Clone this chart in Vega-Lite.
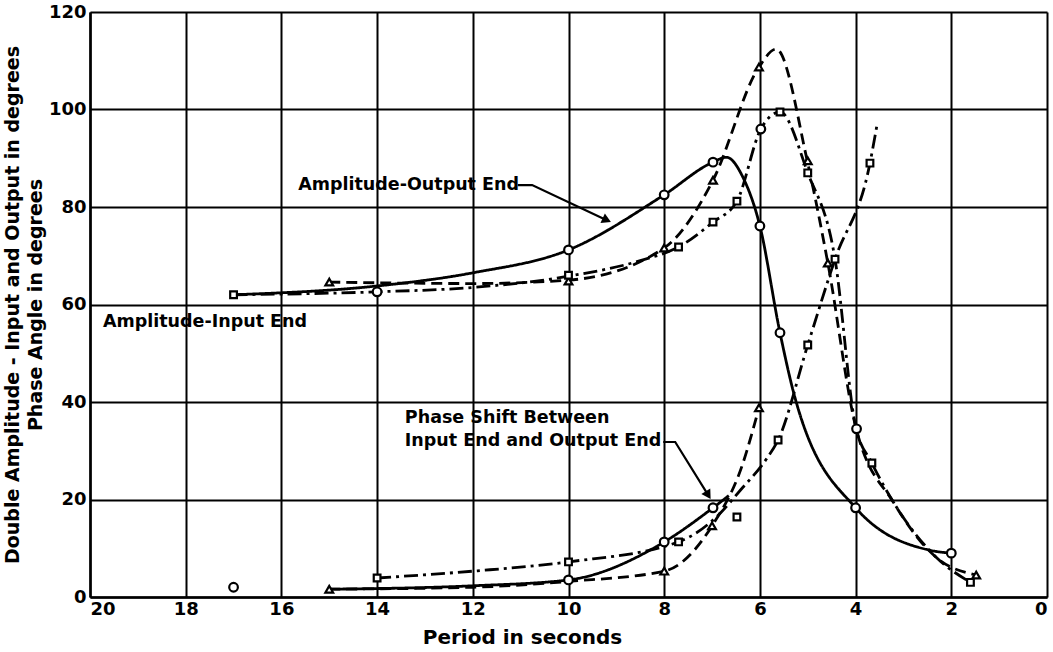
{
  "$schema": "https://vega.github.io/schema/vega-lite/v6.json",
  "width": 957,
  "height": 585,
  "autosize": "none",
  "padding": {"left": 90, "top": 12, "right": 6, "bottom": 55},
  "background": "white",
  "config": {
    "view": {"stroke": null},
    "font": "DejaVu Sans",
    "axis": {
      "grid": true, "gridColor": "black", "gridWidth": 2, "gridOpacity": 1,
      "domainColor": "black", "domainWidth": 2.5, "ticks": false,
      "labelFont": "DejaVu Sans", "labelFontWeight": "bold", "labelFontSize": 18, "labelColor": "black",
      "titleFont": "DejaVu Sans", "titleFontWeight": "bold", "titleFontSize": 18, "titleColor": "black"
    }
  },
  "datasets": {
    "curves": [
      {"s": "A_sol", "x": 17, "y": 62}, {"s": "A_sol", "x": 14, "y": 63.8}, {"s": "A_sol", "x": 12, "y": 66.5},
      {"s": "A_sol", "x": 10, "y": 71.2}, {"s": "A_sol", "x": 8, "y": 82.5}, {"s": "A_sol", "x": 6.98, "y": 89.2},
      {"s": "A_sol", "x": 6.7, "y": 90.2}, {"s": "A_sol", "x": 6.35, "y": 86}, {"s": "A_sol", "x": 6.0, "y": 76.1},
      {"s": "A_sol", "x": 5.58, "y": 54.2}, {"s": "A_sol", "x": 5.27, "y": 41}, {"s": "A_sol", "x": 4.0, "y": 18.3},
      {"s": "A_sol", "x": 2.45, "y": 9.6}, {"s": "A_sol", "x": 2.0, "y": 9.0},

      {"s": "A_dash", "x": 15, "y": 64.6}, {"s": "A_dash", "x": 12, "y": 64.3}, {"s": "A_dash", "x": 10, "y": 65},
      {"s": "A_dash", "x": 8, "y": 71.6}, {"s": "A_dash", "x": 6.98, "y": 85.5}, {"s": "A_dash", "x": 6.02, "y": 108.7},
      {"s": "A_dash", "x": 5.66, "y": 112.4}, {"s": "A_dash", "x": 5.0, "y": 89}, {"s": "A_dash", "x": 4.58, "y": 68.5},
      {"s": "A_dash", "x": 4.0, "y": 35}, {"s": "A_dash", "x": 3.2, "y": 19.3}, {"s": "A_dash", "x": 2.3, "y": 8},
      {"s": "A_dash", "x": 1.48, "y": 4.5},

      {"s": "A_dd", "x": 17, "y": 62}, {"s": "A_dd", "x": 14, "y": 62.6}, {"s": "A_dd", "x": 12, "y": 63.5},
      {"s": "A_dd", "x": 10, "y": 65.8}, {"s": "A_dd", "x": 8.5, "y": 69}, {"s": "A_dd", "x": 7.7, "y": 71.8},
      {"s": "A_dd", "x": 6.98, "y": 76.9}, {"s": "A_dd", "x": 6.48, "y": 81.2}, {"s": "A_dd", "x": 5.98, "y": 96},
      {"s": "A_dd", "x": 5.58, "y": 99.5}, {"s": "A_dd", "x": 5.0, "y": 87}, {"s": "A_dd", "x": 4.43, "y": 69.3},
      {"s": "A_dd", "x": 4.0, "y": 35}, {"s": "A_dd", "x": 3.66, "y": 27.5}, {"s": "A_dd", "x": 3.2, "y": 19.3},
      {"s": "A_dd", "x": 2.3, "y": 8}, {"s": "A_dd", "x": 1.6, "y": 3.0},

      {"s": "P_sol", "x": 15, "y": 1.6}, {"s": "P_sol", "x": 12, "y": 2.3}, {"s": "P_sol", "x": 10, "y": 3.5},
      {"s": "P_sol", "x": 8, "y": 11.3}, {"s": "P_sol", "x": 6.98, "y": 18.3}, {"s": "P_sol", "x": 6.65, "y": 20.8},

      {"s": "P_dash", "x": 15, "y": 1.6}, {"s": "P_dash", "x": 12, "y": 2.0}, {"s": "P_dash", "x": 10, "y": 3.2},
      {"s": "P_dash", "x": 8, "y": 5.3}, {"s": "P_dash", "x": 7, "y": 14.6}, {"s": "P_dash", "x": 6.37, "y": 27},
      {"s": "P_dash", "x": 6.02, "y": 38.8},

      {"s": "P_dd", "x": 14, "y": 3.9}, {"s": "P_dd", "x": 12, "y": 5.3}, {"s": "P_dd", "x": 10, "y": 7.2},
      {"s": "P_dd", "x": 7.7, "y": 11.3}, {"s": "P_dd", "x": 6.9, "y": 16.5}, {"s": "P_dd", "x": 6.4, "y": 22},
      {"s": "P_dd", "x": 5.85, "y": 28.5}, {"s": "P_dd", "x": 5.62, "y": 32.2}, {"s": "P_dd", "x": 5.0, "y": 51.7},
      {"s": "P_dd", "x": 4.43, "y": 69.3}, {"s": "P_dd", "x": 3.7, "y": 89}, {"s": "P_dd", "x": 3.55, "y": 97}
    ],
    "marks": [
      {"m": "circle", "x": 17, "y": 2}, {"m": "circle", "x": 14, "y": 62.6}, {"m": "circle", "x": 10, "y": 71.2},
      {"m": "circle", "x": 8, "y": 82.5}, {"m": "circle", "x": 6.98, "y": 89.2}, {"m": "circle", "x": 6.0, "y": 76.1},
      {"m": "circle", "x": 5.58, "y": 54.2}, {"m": "circle", "x": 4.0, "y": 18.3}, {"m": "circle", "x": 2.0, "y": 9.0},
      {"m": "circle", "x": 5.98, "y": 96}, {"m": "circle", "x": 10, "y": 3.5}, {"m": "circle", "x": 8, "y": 11.3},
      {"m": "circle", "x": 6.98, "y": 18.3}, {"m": "circle", "x": 3.98, "y": 34.5},
      {"m": "triangle", "x": 15, "y": 64.6}, {"m": "triangle", "x": 10, "y": 64.8}, {"m": "triangle", "x": 8, "y": 71.6},
      {"m": "triangle", "x": 6.98, "y": 85.5}, {"m": "triangle", "x": 6.02, "y": 108.7}, {"m": "triangle", "x": 5.0, "y": 89.5},
      {"m": "triangle", "x": 4.58, "y": 68.5}, {"m": "triangle", "x": 1.48, "y": 4.5}, {"m": "triangle", "x": 15, "y": 1.6},
      {"m": "triangle", "x": 8, "y": 5.3}, {"m": "triangle", "x": 7, "y": 14.6}, {"m": "triangle", "x": 6.02, "y": 38.8},
      {"m": "square", "x": 17, "y": 62}, {"m": "square", "x": 10, "y": 66}, {"m": "square", "x": 7.7, "y": 71.8},
      {"m": "square", "x": 6.98, "y": 76.9}, {"m": "square", "x": 6.48, "y": 81.2}, {"m": "square", "x": 5.58, "y": 99.5},
      {"m": "square", "x": 5.0, "y": 87}, {"m": "square", "x": 4.43, "y": 69.3}, {"m": "square", "x": 3.66, "y": 27.5},
      {"m": "square", "x": 1.6, "y": 3.0}, {"m": "square", "x": 14, "y": 3.9}, {"m": "square", "x": 10, "y": 7.2},
      {"m": "square", "x": 7.7, "y": 11.3}, {"m": "square", "x": 6.48, "y": 16.4}, {"m": "square", "x": 5.62, "y": 32.2},
      {"m": "square", "x": 5.0, "y": 51.7}, {"m": "square", "x": 3.7, "y": 89}
    ],
    "arrows": [
      {"id": "out", "k": 0, "x": 11.06, "y": 84.5}, {"id": "out", "k": 1, "x": 10.76, "y": 84.5}, {"id": "out", "k": 2, "x": 9.2, "y": 77.3},
      {"id": "phase", "k": 0, "x": 8.02, "y": 31.8}, {"id": "phase", "k": 1, "x": 7.77, "y": 31.8}, {"id": "phase", "k": 2, "x": 7.08, "y": 20.9}
    ],
    "labels": [
      {"t": "Amplitude-Output End", "x": 15.65, "y": 84.5},
      {"t": "Amplitude-Input End", "x": 19.73, "y": 56.4},
      {"t": "Phase Shift Between", "x": 13.42, "y": 36.7},
      {"t": "Input End and Output End", "x": 13.42, "y": 32.0}
    ]
  },
  "encoding": {
    "x": {"field": "x", "type": "quantitative",
      "scale": {"domain": [0, 20], "reverse": true, "nice": false},
      "axis": {"values": [0, 2, 4, 6, 8, 10, 12, 14, 16, 18, 20], "format": "d", "labelPadding": 3,
        "title": "Period in seconds", "titleX": 432, "titleY": 46, "titleBaseline": "alphabetic", "titleFontSize": 20}},
    "y": {"field": "y", "type": "quantitative",
      "scale": {"domain": [0, 120], "nice": false},
      "axis": {"values": [0, 20, 40, 60, 80, 100, 120], "labelPadding": 4,
        "title": ["Double Amplitude - Input and Output in degrees", "Phase Angle in degrees"],
        "titleLineHeight": 23, "titlePadding": 3, "titleFontSize": 19}}
  },
  "layer": [
    {
      "data": {"name": "curves"},
      "mark": {"type": "line", "interpolate": "monotone", "color": "black", "strokeWidth": 2.8},
      "encoding": {
        "detail": {"field": "s"},
        "strokeDash": {"field": "s", "type": "nominal", "legend": null,
          "scale": {"domain": ["A_sol", "A_dash", "A_dd", "P_sol", "P_dash", "P_dd"],
            "range": [[1, 0], [11, 6], [14, 5, 3, 5], [1, 0], [11, 6], [14, 5, 3, 5]]}}
      }
    },
    {
      "data": {"name": "marks"},
      "mark": {"type": "point", "filled": true, "fill": "white", "stroke": "black", "strokeWidth": 2.2, "opacity": 1},
      "encoding": {
        "shape": {"field": "m", "type": "nominal", "legend": null,
          "scale": {"domain": ["circle", "triangle", "square"], "range": ["circle", "triangle-up", "square"]}},
        "size": {"field": "m", "type": "nominal", "legend": null,
          "scale": {"domain": ["circle", "triangle", "square"], "range": [75, 45, 65]}}
      }
    },
    {
      "data": {"name": "arrows"},
      "mark": {"type": "line", "color": "black", "strokeWidth": 2.2},
      "encoding": {"detail": {"field": "id"}, "order": {"field": "k"}}
    },
    {
      "data": {"name": "arrows"},
      "transform": [{"filter": "datum.id == 'out' && datum.k == 2"}],
      "mark": {"type": "point", "shape": "triangle-up", "angle": 115, "filled": true, "color": "black", "size": 110, "opacity": 1}
    },
    {
      "data": {"name": "arrows"},
      "transform": [{"filter": "datum.id == 'phase' && datum.k == 2"}],
      "mark": {"type": "point", "shape": "triangle-up", "angle": 148, "filled": true, "color": "black", "size": 110, "opacity": 1}
    },
    {
      "data": {"name": "labels"},
      "mark": {"type": "text", "align": "left", "baseline": "middle", "font": "DejaVu Sans", "fontWeight": "bold", "fontSize": 17.5, "color": "black"},
      "encoding": {"text": {"field": "t"}}
    }
  ]
}
